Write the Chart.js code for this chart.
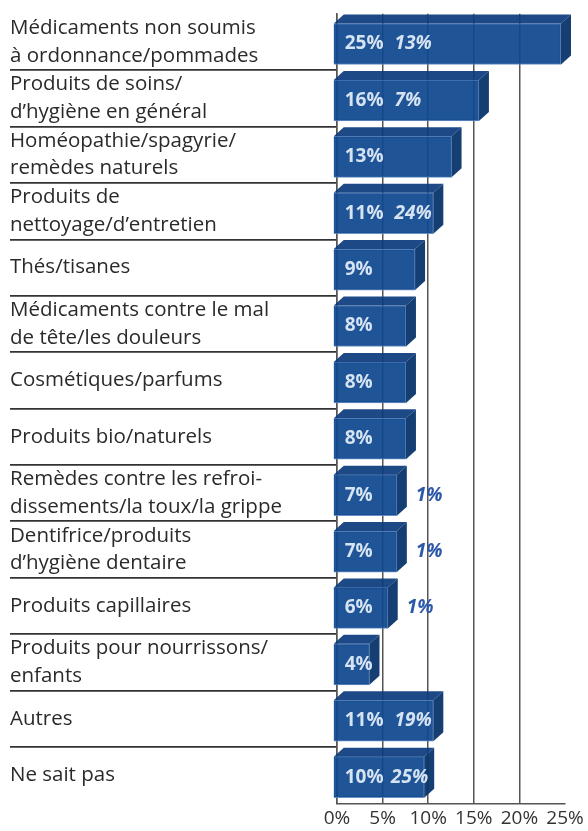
<!DOCTYPE html>
<html><head><meta charset="utf-8">
<script src="https://cdn.jsdelivr.net/npm/chart.js@4"></script>
<style>html,body{margin:0;padding:0;background:#fff}</style>
</head><body>
<canvas id="c" width="588" height="831"></canvas>
<script>
const labels=[['Médicaments non soumis','à ordonnance/pommades'],['Produits de soins/','d’hygiène en général'],['Homéopathie/spagyrie/','remèdes naturels'],['Produits de','nettoyage/d’entretien'],'Thés/tisanes',['Médicaments contre le mal','de tête/les douleurs'],'Cosmétiques/parfums','Produits bio/naturels',['Remèdes contre les refroi-','dissements/la toux/la grippe'],['Dentifrice/produits','d’hygiène dentaire'],'Produits capillaires',['Produits pour nourrissons/','enfants'],'Autres','Ne sait pas'];
const values=[25,16,13,11,9,8,8,8,7,7,6,4,11,10];
const second=[13,7,null,24,null,null,null,null,1,1,1,null,19,25];
const xMax=25, xStep=5;

const FONT='"Open Sans", sans-serif';
const DX=10, DY=-9;

// 3D faces + value labels on top of the bars chart.js draws
const bar3d={id:'bar3d',
 beforeDatasetsDraw(c){c.ctx.save();c.ctx.translate(-4,2);},
 afterDatasetsDraw(c){
  const ctx=c.ctx, meta=c.getDatasetMeta(0);
  meta.data.forEach((b,i)=>{
   const l=b.base, r=b.x, t=b.y-b.height/2, bt=b.y+b.height/2;
   ctx.fillStyle='rgba(12,60,125,0.93)';
   ctx.beginPath();ctx.moveTo(l,t);ctx.lineTo(l+DX,t+DY);ctx.lineTo(r+DX,t+DY);ctx.lineTo(r,t);ctx.closePath();ctx.fill();
   ctx.fillStyle='rgba(8,52,108,0.95)';
   ctx.beginPath();ctx.moveTo(r,t);ctx.lineTo(r+DX,t+DY);ctx.lineTo(r+DX,bt+DY);ctx.lineTo(r,bt);ctx.closePath();ctx.fill();
   // labels
   ctx.textBaseline='middle';ctx.textAlign='left';
   const y=b.y, x1=l+11, s1=values[i]+'%';
   ctx.font='bold 19px '+FONT;ctx.fillStyle='#d6e3f3';
   ctx.fillText(s1,x1,y);
   const w1=ctx.measureText(s1).width;
   if(second[i]!=null){
    const s2=second[i]+'%';
    ctx.font='italic bold 19px '+FONT;
    const w2=ctx.measureText(s2).width;
    if(second[i]<=2){
     ctx.fillStyle='#2b58a8';ctx.fillText(s2,r+DX+9,y);
    }else{
     let x2=x1+w1+11;
     if(x2+w2>r+4)x2=Math.max(x1+w1+2,r+4-w2);
     ctx.fillStyle='#d6e3f3';ctx.fillText(s2,x2,y);
    }
   }
  });
  ctx.restore();
 }};

new Chart(document.getElementById('c'),{
 type:'bar',
 data:{labels:labels,datasets:[{data:values,backgroundColor:'rgba(14,71,142,0.93)',borderColor:'rgba(90,133,192,0.9)',borderWidth:1,barThickness:41}]},
 options:{
  indexAxis:'y',responsive:false,animation:false,devicePixelRatio:1,
  layout:{padding:{left:10,right:23,top:12,bottom:0}},
  plugins:{legend:{display:false},tooltip:{enabled:false}},
  scales:{
   x:{min:0,max:xMax,
    afterFit:s=>{s.height=26;},
    ticks:{stepSize:xStep,callback:v=>v+'%',color:'#333',font:{family:FONT,size:19},padding:4},
    grid:{color:ctx=>ctx.tick&&ctx.tick.value===xMax?'rgba(0,0,0,0)':'#555',lineWidth:1.5,drawTicks:false},
    border:{color:'#555',width:1.5}},
   y:{
    afterFit:s=>{s.width=327;},
    ticks:{autoSkip:false,crossAlign:'far',color:'#2a2a2a',padding:0,font:{family:FONT,size:20.5,lineHeight:1.35}},
    grid:{offset:true,drawOnChartArea:false,tickLength:327,lineWidth:1.8,
     color:ctx=>(ctx.index===0||ctx.type!=='tick')?'rgba(0,0,0,0)':'#333'},
    border:{color:'#555',width:1.5}}
  }
 },
 plugins:[bar3d]
});
</script>
</body></html>
